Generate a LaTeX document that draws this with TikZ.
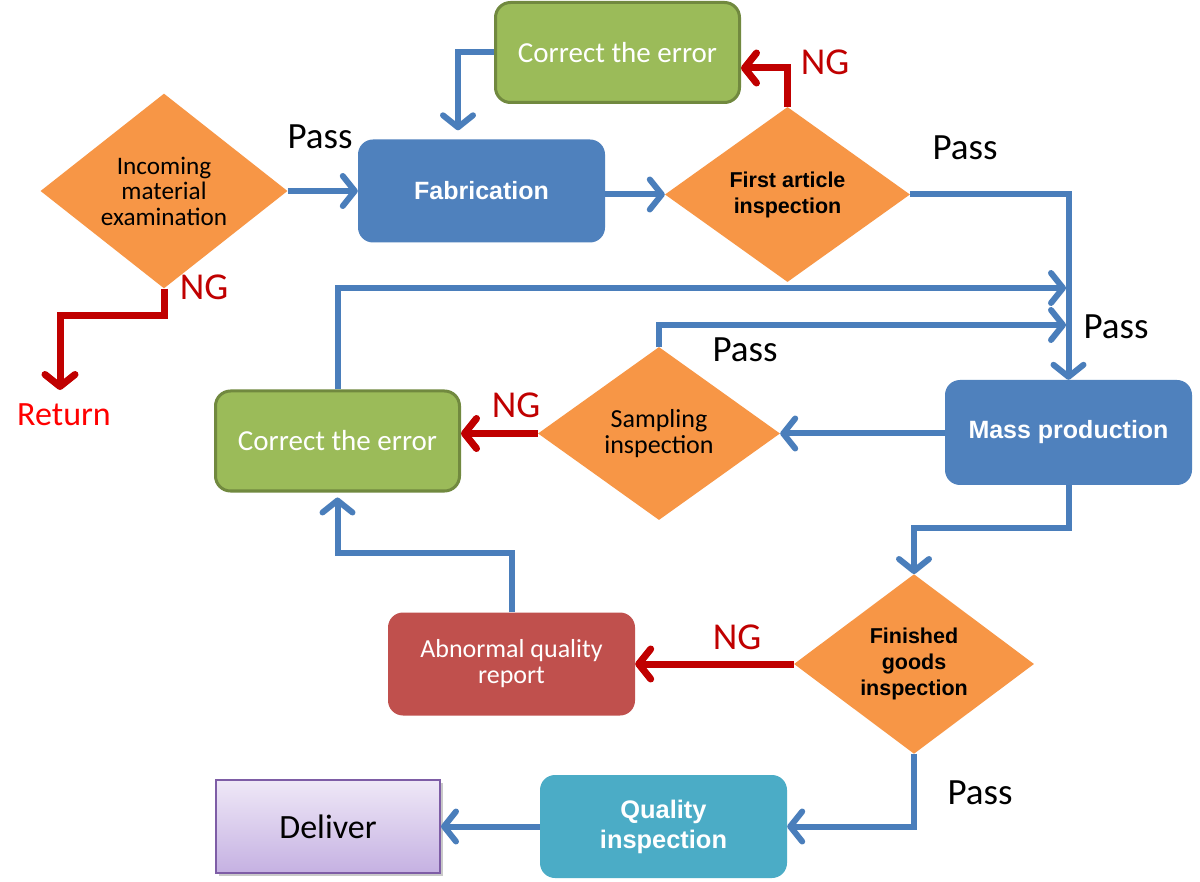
\documentclass[tikz,border=0pt]{standalone}
\usepackage{fontspec}
\setmainfont{Carlito}
\newfontfamily\arialfont{Liberation Sans}
\usetikzlibrary{shapes.geometric,arrows.meta,calc,shadows}
\definecolor{orng}{HTML}{F79646}
\definecolor{bbox}{HTML}{4F81BD}
\definecolor{gbox}{HTML}{9BBB59}
\definecolor{gline}{HTML}{71893F}
\definecolor{rbox}{HTML}{C0504D}
\definecolor{tbox}{HTML}{4BACC6}
\definecolor{conn}{HTML}{4A7EBB}
\definecolor{ngred}{HTML}{C00000}
\definecolor{retred}{HTML}{FF0000}
\definecolor{delTop}{HTML}{EFE8F7}
\definecolor{delBot}{HTML}{C5B1E2}
\definecolor{delLine}{HTML}{7E5DA6}
\begin{document}
\begin{tikzpicture}[x=1pt,y=-1pt,
  decision/.style={diamond,fill=orng,inner sep=0pt,align=center,text=black,
    minimum width=245pt,minimum height=175pt},
  boxnode/.style={rounded corners=15pt,inner sep=0pt,align=center,text=white,
    minimum width=247pt,minimum height=103pt},
  boldtext/.style={font=\arialfont\bfseries\fontsize{25}{30}\selectfont},
  flow/.style={draw=conn,line width=6pt,-{Straight Barb[length=12pt,width=30pt,round]}},
  ngflow/.style={draw=ngred,line width=7pt,-{Straight Barb[length=12pt,width=30pt,round]}},
  passlbl/.style={font=\fontsize{37}{39}\selectfont,text=black,inner sep=0pt},
  nglbl/.style={font=\fontsize{38}{40}\selectfont,text=ngred,inner sep=0pt}
]
\useasboundingbox (0,0) rectangle (1200,882);
\fill[white] (0,0) rectangle (1200,882);

% nodes
\node[boxnode,fill=gbox,draw=gline,line width=3pt,minimum width=244pt,minimum height=100pt,
  font=\fontsize{29}{30}\selectfont] (ce1) at (617.5,52.5) {Correct the error};
\node[boxnode,fill=bbox,boldtext] (fab) at (481.5,191) {Fabrication};
\node[decision,minimum width=247pt,font=\fontsize{25.2}{25.5}\selectfont] (inc) at (164,191) {Incoming\\material\\examination};
\node[decision,font=\arialfont\bfseries\fontsize{21.5}{26}\selectfont] (fa) at (787.5,194.5) {First article\\inspection};
\node[boxnode,fill=bbox,boldtext,minimum height=105pt] (mp) at (1068.5,432.5) {Mass production};
\node[decision,minimum width=242pt,minimum height=173pt,font=\fontsize{26}{26}\selectfont] (samp) at (659,433.5) {Sampling\\inspection};
\node[boxnode,fill=gbox,draw=gline,line width=3pt,minimum width=244pt,minimum height=100pt,
  font=\fontsize{29}{30}\selectfont] (ce2) at (337.5,441) {Correct the error};
\node[boxnode,fill=rbox,font=\fontsize{26}{26}\selectfont] (ab) at (511.5,664) {Abnormal quality\\report};
\node[decision,minimum width=240pt,minimum height=172pt,font=\arialfont\bfseries\fontsize{21.5}{26}\selectfont] (fin) at (914,664) {Finished\\goods\\inspection};
\node[boxnode,fill=tbox,font=\arialfont\bfseries\fontsize{25.4}{30}\selectfont] (qi) at (663.5,826.5) {Quality\\inspection};
\node[draw=delLine,line width=2pt,top color=delTop,bottom color=delBot,
  drop shadow={shadow xshift=3pt,shadow yshift=-3pt,opacity=0.35,fill=black!60},
  minimum width=224pt,minimum height=93pt,inner sep=0pt,
  font=\fontsize{34}{36}\selectfont] (del) at (328,826.5) {Deliver};

% helper coordinates
\coordinate (j1) at (1066,288);
\coordinate (j2) at (1066,325);
\coordinate (ret) at (60,390);

% connectors
\draw[flow] (inc.east) -- (fab.west |- inc.east);
\draw[flow] (fab.east |- fa.west) -- (fa.west);
\draw[flow] (ce1.west) -| ($(fab.north)+(-23.5,-9)$);
\draw[ngflow] (fa.north) |- ($(ce1.east)+(0,15.5)$);
\draw[flow] (fa.east) -| (mp.north);
\draw[flow] (ce2.north) |- (j1);
\draw[flow] (samp.north) |- (j2);
\draw[flow] (mp.west |- samp.east) -- (samp.east);
\draw[ngflow] (samp.west) -- (ce2.east |- samp.west);
\draw[flow] (mp.south) -- ++(0,43) -| (fin.north);
\draw[ngflow] (fin.west) -- (ab.east);
\draw[flow] (ab.north) -- ++(0,-59) -| ($(ce2.south)+(0,5)$);
\draw[flow] (fin.south) |- (qi.east);
\draw[flow] (qi.west) -- (del.east);
\draw[ngflow] (inc.south) -- ++(0,27) -| (ret);

% labels
\node[passlbl] (p1) at (320,137) {Pass};
\node[passlbl] (p2) at (965,148) {Pass};
\node[passlbl] (p3) at (745,350) {Pass};
\node[passlbl] (p4) at (1116,327) {Pass};
\node[passlbl] (p5) at (980,793) {Pass};
\node[nglbl] (n1) at (204,287) {NG};
\node[nglbl] (n2) at (825,62) {NG};
\node[nglbl] (n3) at (516,405) {NG};
\node[nglbl] (n4) at (737,637) {NG};
\node[font=\fontsize{34}{36}\selectfont,text=retred,inner sep=0pt] (rt) at (64,415) {Return};
\end{tikzpicture}
\end{document}
